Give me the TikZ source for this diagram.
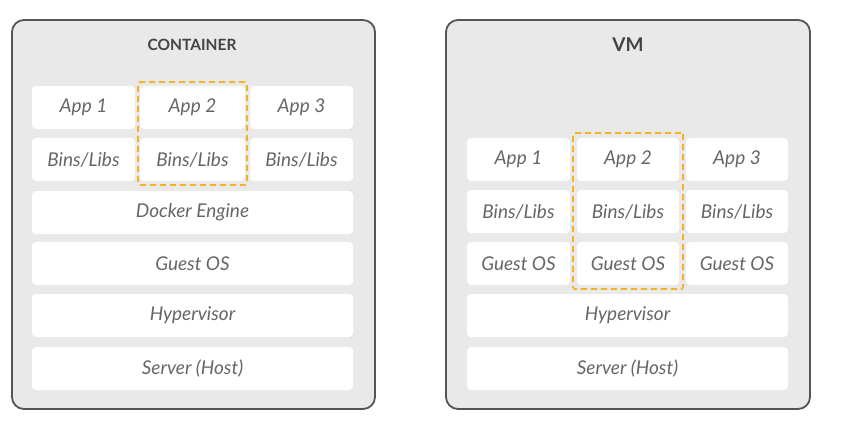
\documentclass[tikz,border=0pt]{standalone}
\usepackage{fontspec}
\setmainfont{Lato}
\definecolor{panelfill}{HTML}{E9E9E9}
\definecolor{panelline}{HTML}{555555}
\definecolor{celltext}{HTML}{666666}
\definecolor{titletext}{HTML}{444444}
\definecolor{hilite}{HTML}{F5B324}
\tikzset{
  panel/.style={draw=panelline, line width=1.8pt, fill=panelfill, rounded corners=12pt, anchor=north west, inner sep=0pt, outer sep=0pt},
  cell/.style={fill=white, rounded corners=4pt, anchor=north west, inner sep=0pt, outer sep=0pt, minimum height=43pt, text=celltext, font=\fontsize{19}{21}\selectfont\itshape},
  narrow/.style={cell, minimum width=103pt},
  wide/.style={cell, minimum width=321pt},
  title/.style={font=\fontsize{15.5}{17}\selectfont\bfseries, text=titletext},
  hibox/.style={draw=hilite, line width=1.8pt, dash pattern=on 6pt off 4pt, rounded corners=2pt, anchor=north west, inner sep=0pt, outer sep=0pt}
}
\begin{document}
\begin{tikzpicture}[x=1pt,y=-1pt]
\useasboundingbox (0,0) rectangle (843,429);
% Container panel
\node[panel, minimum width=363pt, minimum height=389pt] (cpanel) at (12,20) {};
\node[title] (ctitle) at (192,45) {CONTAINER};
\node[narrow] (capp1) at (32,86) {App 1};
\node[narrow, minimum width=105pt] (capp2) at (140,86) {App 2};
\node[narrow] (capp3) at (250,86) {App 3};
\node[narrow] (cbin1) at (32,138) {Bins/Libs};
\node[narrow, minimum width=105pt] (cbin2) at (140,138) {Bins/Libs};
\node[narrow] (cbin3) at (250,138) {Bins/Libs};
\node[wide] (cdock) at (32,191) {Docker Engine};
\node[wide] (cguest) at (32,242) {Guest OS};
\node[wide] (chyp) at (32,294) {Hypervisor};
\node[wide] (cserv) at (32,347) {Server (Host)};
\node[hibox, minimum width=109pt, minimum height=103pt] (chi) at (138,82) {};
% VM panel
\node[panel, minimum width=364pt, minimum height=389pt] (vpanel) at (446,20) {};
\node[title, font=\fontsize{19}{21}\selectfont\bfseries] (vtitle) at (628,45) {VM};
\node[narrow] (vapp1) at (467,138) {App 1};
\node[narrow, minimum width=102pt] (vapp2) at (577,138) {App 2};
\node[narrow, minimum width=102pt] (vapp3) at (686,138) {App 3};
\node[narrow] (vbin1) at (467,190) {Bins/Libs};
\node[narrow, minimum width=102pt] (vbin2) at (577,190) {Bins/Libs};
\node[narrow, minimum width=102pt] (vbin3) at (686,190) {Bins/Libs};
\node[narrow] (vguest1) at (467,242) {Guest OS};
\node[narrow, minimum width=102pt] (vguest2) at (577,242) {Guest OS};
\node[narrow, minimum width=102pt] (vguest3) at (686,242) {Guest OS};
\node[wide] (vhyp) at (467,294) {Hypervisor};
\node[wide] (vserv) at (467,347) {Server (Host)};
\node[hibox, minimum width=110pt, minimum height=156pt] (vhi) at (573,133) {};
\end{tikzpicture}
\end{document}
